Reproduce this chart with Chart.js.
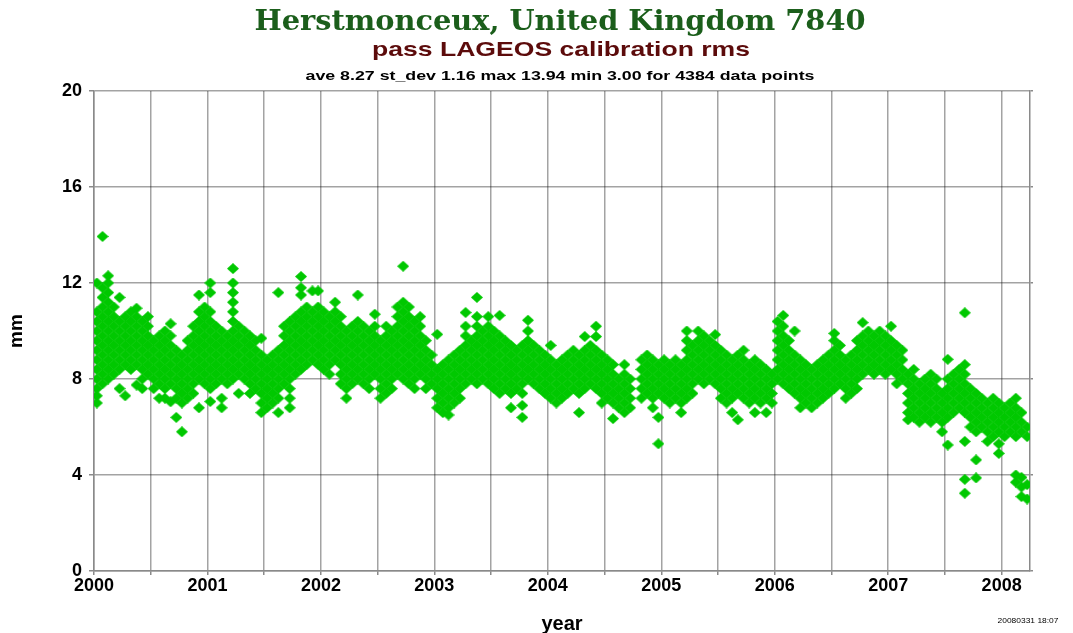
<!DOCTYPE html>
<html>
<head>
<meta charset="utf-8">
<title>Herstmonceux 7840 LAGEOS calibration rms</title>
<script src="https://cdn.jsdelivr.net/npm/chart.js@4.4.1/dist/chart.umd.min.js"></script>
<style>
  html, body { margin: 0; padding: 0; background: #fff; }
  #wrap { width: 1073px; height: 633px; position: relative; }
</style>
</head>
<body>
<div id="wrap"><canvas id="rmsChart"></canvas></div>
<script>
// pass rms values (mm), grouped in 0.05 year bins
const binWidth = 0.05;
const yearTicks = [2000, 2000.5, 2001, 2001.5, 2002, 2002.5, 2003, 2003.5, 2004, 2004.5,
                   2005, 2005.5, 2006, 2006.5, 2007, 2007.5, 2008];
const mmTicks = [0, 4, 8, 12, 16, 20];

const rms2000 = [
  [12.0, 10.8, 10.4, 10.0, 9.6, 9.2, 8.8, 8.4, 8.0, 7.6, 7.3, 7.0],
  [13.94, 11.8, 11.4, 11.0, 10.6, 10.2, 9.8, 9.4, 9.0, 8.6, 8.2, 7.8],
  [12.3, 12.0, 11.6, 11.2, 10.8, 10.4, 10.0, 9.6, 9.2, 8.8, 8.4, 8.0],
  [11.0, 10.6, 10.2, 9.8, 9.4, 9.0, 8.6, 8.2],
  [11.4, 10.4, 10.0, 9.6, 9.2, 8.8, 8.4, 7.6],
  [10.6, 10.2, 9.8, 9.4, 9.0, 8.6, 7.3],
  [10.8, 10.4, 10.0, 9.6, 9.2, 8.8, 8.4],
  [10.95, 10.6, 10.2, 9.8, 9.4, 9.0, 8.6, 7.75],
  [10.4, 10.0, 9.6, 9.2, 8.8, 8.4, 8.0, 7.6],
  [10.6, 10.2, 9.8, 9.4, 9.0, 8.6, 8.2],
  [9.6, 9.2, 8.8, 8.4, 8.0, 7.6],
  [9.8, 9.4, 9.0, 8.6, 8.2, 7.8, 7.2],
  [10.0, 9.6, 9.2, 8.8, 8.4, 8.0, 7.6, 7.2],
  [10.3, 9.8, 9.4, 9.0, 8.6, 8.2, 7.8, 7.05],
  [9.2, 8.8, 8.4, 8.0, 7.6, 7.2, 6.4],
  [9.0, 8.6, 8.2, 7.8, 7.4, 7.0, 5.8],
  [9.6, 9.2, 8.8, 8.4, 8.0, 7.6, 7.2],
  [10.2, 9.8, 9.4, 9.0, 8.6, 8.2, 7.8, 7.4],
  [11.5, 10.8, 10.4, 10.0, 9.6, 9.2, 8.8, 8.4, 8.0, 6.8],
  [11.0, 10.6, 10.2, 9.8, 9.4, 9.0, 8.6, 8.2, 7.8]
];
const rms2001 = [
  [12.0, 11.6, 10.8, 10.4, 10.0, 9.6, 9.2, 8.8, 8.4, 8.0, 7.6, 7.06],
  [10.2, 9.8, 9.4, 9.0, 8.6, 8.2, 7.8],
  [10.0, 9.6, 9.2, 8.8, 8.4, 8.0, 7.2, 6.8],
  [9.8, 9.4, 9.0, 8.6, 8.2, 7.8],
  [12.6, 12.0, 11.6, 11.2, 10.8, 10.4, 10.0, 9.6, 9.2, 8.8, 8.4, 8.0],
  [10.2, 9.8, 9.4, 9.0, 8.6, 8.2, 7.4],
  [10.0, 9.6, 9.2, 8.8, 8.4, 8.0],
  [9.8, 9.4, 9.0, 8.6, 8.2, 7.8, 7.4],
  [9.6, 9.2, 8.8, 8.4, 8.0, 7.6],
  [9.7, 9.0, 8.6, 8.2, 7.8, 7.4, 7.0, 6.6],
  [8.8, 8.4, 8.0, 7.6, 7.2, 6.8],
  [9.0, 8.6, 8.2, 7.8, 7.4, 7.0],
  [11.6, 9.2, 8.8, 8.4, 8.0, 7.6, 7.2, 6.6],
  [10.2, 9.8, 9.4, 9.0, 8.6, 8.2, 7.8],
  [10.4, 10.0, 9.6, 9.2, 8.8, 8.4, 8.0, 7.6, 7.2, 6.8],
  [10.6, 10.2, 9.8, 9.4, 9.0, 8.6, 8.2],
  [12.27, 11.8, 11.5, 10.8, 10.4, 10.0, 9.6, 9.2, 8.8, 8.4],
  [11.0, 10.6, 10.2, 9.8, 9.4, 9.0, 8.6],
  [11.67, 10.8, 10.4, 10.0, 9.6, 9.2, 8.8],
  [11.67, 11.0, 10.6, 10.2, 9.8, 9.4, 9.0, 8.6]
];
const rms2002 = [
  [10.8, 10.4, 10.0, 9.6, 9.2, 8.8, 8.4],
  [10.6, 10.2, 9.8, 9.4, 9.0, 8.6, 8.2],
  [11.2, 10.8, 10.4, 10.0, 9.6, 9.2, 8.8],
  [10.6, 10.2, 9.8, 9.4, 9.0, 8.6, 8.2, 7.8],
  [10.0, 9.6, 9.2, 8.8, 8.4, 8.0, 7.6, 7.2],
  [10.2, 9.8, 9.4, 9.0, 8.6, 8.2, 7.8],
  [11.5, 10.4, 10.0, 9.6, 9.2, 8.8, 8.4, 8.0],
  [10.2, 9.8, 9.4, 9.0, 8.6, 8.2, 7.8],
  [10.0, 9.6, 9.2, 8.8, 8.4, 8.0, 7.6],
  [10.7, 10.2, 9.8, 9.4, 9.0, 8.6, 8.2],
  [9.6, 9.2, 8.8, 8.4, 8.0, 7.6, 7.2],
  [10.2, 9.8, 9.4, 9.0, 8.6, 8.2, 7.8, 7.4],
  [10.0, 9.6, 9.2, 8.8, 8.4, 8.0, 7.6],
  [11.0, 10.6, 10.2, 9.8, 9.4, 9.0, 8.6, 8.2],
  [12.7, 11.2, 10.8, 10.4, 10.0, 9.6, 9.2, 8.8, 8.4, 8.0],
  [11.0, 10.6, 10.2, 9.8, 9.4, 9.0, 8.6, 8.2, 7.8],
  [10.4, 10.0, 9.6, 9.2, 8.8, 8.4, 8.0, 7.6],
  [10.6, 10.2, 9.8, 9.4, 9.0, 8.6, 8.2],
  [9.6, 9.2, 8.8, 8.4, 8.0, 7.6],
  [9.0, 8.6, 8.2, 7.8]
];
const rms2003 = [
  [9.86, 8.4, 8.0, 7.6, 7.2, 6.8],
  [8.6, 8.2, 7.8, 7.4, 7.0, 6.6],
  [8.8, 8.4, 8.0, 7.6, 7.2, 6.8, 6.5],
  [9.0, 8.6, 8.2, 7.8, 7.4, 7.0],
  [9.2, 8.8, 8.4, 8.0, 7.6, 7.2],
  [10.77, 10.2, 9.8, 9.4, 9.0, 8.6, 8.2, 7.8],
  [9.6, 9.2, 8.8, 8.4, 8.0],
  [11.4, 10.6, 10.2, 9.8, 9.4, 9.0, 8.6, 8.2, 7.8],
  [10.0, 9.6, 9.2, 8.8, 8.4, 8.0],
  [10.6, 10.2, 9.8, 9.4, 9.0, 8.6, 8.2, 7.8],
  [10.0, 9.6, 9.2, 8.8, 8.4, 8.0, 7.6],
  [10.65, 9.8, 9.4, 9.0, 8.6, 8.2, 7.8, 7.4],
  [9.6, 9.2, 8.8, 8.4, 8.0, 7.6],
  [9.4, 9.0, 8.6, 8.2, 7.8, 7.4, 6.8],
  [9.2, 8.8, 8.4, 8.0, 7.6],
  [9.4, 9.0, 8.6, 8.2, 7.8, 7.4, 6.9, 6.4],
  [10.45, 10.0, 9.6, 9.2, 8.8, 8.4, 8.0],
  [9.4, 9.0, 8.6, 8.2, 7.8],
  [9.2, 8.8, 8.4, 8.0, 7.6],
  [9.0, 8.6, 8.2, 7.8, 7.4]
];
const rms2004 = [
  [9.4, 8.8, 8.4, 8.0, 7.6, 7.2],
  [8.6, 8.2, 7.8, 7.4, 7.0],
  [8.8, 8.4, 8.0, 7.6, 7.2],
  [9.0, 8.6, 8.2, 7.8, 7.4],
  [9.2, 8.8, 8.4, 8.0, 7.6],
  [9.0, 8.6, 8.2, 7.8, 7.4, 6.6],
  [9.77, 9.2, 8.8, 8.4, 8.0, 7.6],
  [9.4, 9.0, 8.6, 8.2, 7.8],
  [10.2, 9.77, 9.2, 8.8, 8.4, 8.0, 7.6],
  [9.0, 8.6, 8.2, 7.8, 7.4, 7.0],
  [8.8, 8.4, 8.0, 7.6, 7.2],
  [8.6, 8.2, 7.8, 7.4, 7.0, 6.35],
  [8.0, 7.6, 7.2, 6.8],
  [8.6, 8.2, 7.8, 7.4, 7.0, 6.6],
  [8.0, 7.6, 7.2, 6.8],
  [],
  [8.8, 8.4, 8.0, 7.6, 7.2],
  [9.0, 8.6, 8.2, 7.8, 7.4],
  [8.8, 8.4, 8.0, 7.6, 7.2, 6.8],
  [8.6, 8.2, 7.8, 7.4, 6.4, 5.3]
];
const rms2005 = [
  [8.8, 8.4, 8.0, 7.6, 7.2],
  [8.6, 8.2, 7.8, 7.4, 7.0],
  [8.8, 8.4, 8.0, 7.6, 7.2],
  [8.6, 8.2, 7.8, 7.4, 7.0, 6.6],
  [10.0, 9.6, 9.2, 8.8, 8.4, 8.0, 7.6, 7.2],
  [9.4, 9.0, 8.6, 8.2, 7.8, 7.4],
  [10.0, 9.6, 9.2, 8.8, 8.4, 8.0],
  [9.8, 9.4, 9.0, 8.6, 8.2, 7.8],
  [9.6, 9.2, 8.8, 8.4, 8.0],
  [9.85, 9.4, 9.0, 8.6, 8.2, 7.8],
  [9.2, 8.8, 8.4, 8.0, 7.6, 7.2],
  [9.0, 8.6, 8.2, 7.8, 7.4, 7.0],
  [8.8, 8.4, 8.0, 7.6, 7.2, 6.6],
  [9.0, 8.6, 8.2, 7.8, 7.4, 6.3],
  [9.2, 8.8, 8.4, 8.0, 7.6, 7.2],
  [8.6, 8.2, 7.8, 7.4, 7.0],
  [8.8, 8.4, 8.0, 7.6, 7.2, 6.6],
  [8.6, 8.2, 7.8, 7.4, 7.0],
  [8.4, 8.0, 7.6, 7.2, 6.6],
  [8.2, 7.8, 7.4, 7.0]
];
const rms2006 = [
  [10.4, 10.0, 9.6, 9.2, 8.8, 8.4, 8.0],
  [10.65, 10.2, 9.8, 9.4, 9.0, 8.6, 8.2, 7.8],
  [9.6, 9.2, 8.8, 8.4, 8.0, 7.6],
  [10.0, 9.0, 8.6, 8.2, 7.8, 7.4],
  [8.8, 8.4, 8.0, 7.6, 7.2, 6.8],
  [8.6, 8.2, 7.8, 7.4, 7.0],
  [8.4, 8.0, 7.6, 7.2, 6.8],
  [8.6, 8.2, 7.8, 7.4, 7.0],
  [8.8, 8.4, 8.0, 7.6, 7.2],
  [9.0, 8.6, 8.2, 7.8, 7.4],
  [9.9, 9.6, 9.2, 8.8, 8.4, 8.0, 7.6],
  [9.4, 9.0, 8.6, 8.2, 7.8],
  [8.8, 8.4, 8.0, 7.6, 7.2],
  [9.0, 8.6, 8.2, 7.8, 7.4],
  [9.6, 9.2, 8.8, 8.4, 8.0, 7.6],
  [10.35, 9.8, 9.4, 9.0, 8.6, 8.2],
  [10.0, 9.6, 9.2, 8.8, 8.4],
  [9.8, 9.4, 9.0, 8.6, 8.2],
  [10.0, 9.6, 9.2, 8.8, 8.4],
  [9.8, 9.4, 9.0, 8.6, 8.2]
];
const rms2007 = [
  [10.2, 9.6, 9.2, 8.8, 8.4],
  [9.4, 9.0, 8.6, 8.2, 7.8],
  [9.2, 8.8, 8.4, 8.0],
  [8.2, 7.8, 7.4, 7.0, 6.6, 6.3],
  [8.4, 8.0, 7.6, 7.2, 6.8, 6.4],
  [7.8, 7.4, 7.0, 6.6, 6.2],
  [8.0, 7.6, 7.2, 6.8, 6.4],
  [8.2, 7.8, 7.4, 7.0, 6.6, 6.2],
  [8.0, 7.6, 7.2, 6.8, 6.4],
  [7.4, 7.0, 6.6, 6.2, 5.8],
  [8.82, 8.0, 7.6, 7.2, 6.8, 6.4, 5.25],
  [8.2, 7.8, 7.4, 7.0, 6.6],
  [8.4, 8.0, 7.6, 7.2, 6.8],
  [10.76, 8.6, 8.2, 7.8, 7.4, 7.0, 6.6, 5.4, 3.82, 3.24],
  [7.6, 7.2, 6.8, 6.4, 6.0],
  [7.4, 7.0, 6.6, 6.2, 5.8, 4.63, 3.88],
  [7.2, 6.8, 6.4, 6.0],
  [7.0, 6.6, 6.2, 5.8, 5.4],
  [7.2, 6.8, 6.4, 6.0, 5.6],
  [7.0, 6.6, 6.2, 5.8, 5.3, 4.9]
];
const rms2008 = [
  [6.8, 6.4, 6.0, 5.6],
  [7.0, 6.6, 6.2, 5.8],
  [7.2, 6.8, 6.4, 6.0, 5.6, 4.0, 3.7],
  [6.6, 6.2, 5.8, 3.9, 3.5, 3.1],
  [6.0, 5.6, 3.6, 3.0]
];

const binsByYear = [
  [2000, rms2000], [2001, rms2001], [2002, rms2002], [2003, rms2003], [2004, rms2004],
  [2005, rms2005], [2006, rms2006], [2007, rms2007], [2008, rms2008]
];

const points = [];
binsByYear.forEach(([year, bins]) => {
  bins.forEach((vals, k) => {
    vals.forEach(v => points.push({ x: year + binWidth * (k + 0.5), y: v }));
  });
});

// green diamond marker, a bit wider than tall like the original
const marker = document.createElement('canvas');
marker.width = 12;
marker.height = 11;
const mctx = marker.getContext('2d');
mctx.fillStyle = 'rgb(0,200,0)';
mctx.beginPath();
mctx.moveTo(6, 0);
mctx.lineTo(12, 5.5);
mctx.lineTo(6, 11);
mctx.lineTo(0, 5.5);
mctx.closePath();
mctx.fill();

function stretchedText(ctx, text, cx, baseline, font, color, width) {
  ctx.save();
  ctx.font = font;
  ctx.fillStyle = color;
  ctx.textAlign = 'center';
  ctx.textBaseline = 'alphabetic';
  const sx = width / ctx.measureText(text).width;
  ctx.translate(cx, baseline);
  ctx.scale(sx, 1);
  ctx.fillText(text, 0, 0);
  ctx.restore();
}

const headings = {
  id: 'headings',
  afterDraw(chart) {
    const ctx = chart.ctx;
    stretchedText(ctx, 'Herstmonceux, United Kingdom 7840', 560, 30,
      'bold 28px "DejaVu Serif"', '#1b5e1b', 611);
    stretchedText(ctx, 'pass LAGEOS calibration rms', 561, 56,
      'bold 21px "Liberation Sans"', '#5c0b0b', 378);
    stretchedText(ctx, 'ave 8.27 st_dev 1.16 max 13.94 min 3.00 for 4384 data points', 560, 80,
      'bold 13px "Liberation Sans"', '#000', 509);
    stretchedText(ctx, '20080331 18:07', 1028, 623,
      '7px "Liberation Sans"', '#000', 61);
  }
};

const gridColor = 'rgba(0,0,0,0.36)';
const axisColor = '#8a8a8a';
const tickFont = { family: 'Liberation Sans', size: 18, weight: 'bold' };

new Chart(document.getElementById('rmsChart'), {
  type: 'scatter',
  data: {
    datasets: [{
      label: 'rms',
      data: points,
      pointStyle: marker,
      pointRadius: 5,
      showLine: false
    }]
  },
  options: {
    responsive: true,
    maintainAspectRatio: false,
    animation: false,
    layout: { padding: { top: 91, right: 38, bottom: 0, left: 0 } },
    plugins: {
      legend: { display: false },
      tooltip: { enabled: false }
    },
    scales: {
      x: {
        type: 'linear',
        min: 2000,
        max: 2008.25,
        z: 1,
        afterFit(scale) { scale.height = 62; },
        afterBuildTicks(scale) { scale.ticks = yearTicks.map(v => ({ value: v })); },
        ticks: {
          autoSkip: false,
          maxRotation: 0,
          padding: 0,
          color: '#000',
          font: tickFont,
          callback: v => (v % 1 === 0 ? String(v) : '')
        },
        grid: { color: gridColor, lineWidth: 1.5, tickLength: 4, tickColor: axisColor },
        border: { color: axisColor, width: 1.5 },
        title: {
          display: true,
          text: 'year',
          color: '#000',
          font: { family: 'Liberation Sans', size: 20, weight: 'bold', lineHeight: 0.9 },
          padding: 0
        }
      },
      y: {
        min: 0,
        max: 20,
        z: 1,
        afterFit(scale) { scale.width = 94; },
        afterBuildTicks(scale) { scale.ticks = mmTicks.map(v => ({ value: v })); },
        ticks: {
          padding: 7,
          color: '#000',
          font: tickFont,
          callback: v => String(v)
        },
        grid: { color: gridColor, lineWidth: 1.5, tickLength: 5, tickColor: axisColor },
        border: { color: axisColor, width: 1.5 },
        title: {
          display: true,
          text: 'mm',
          color: '#000',
          font: { family: 'Liberation Sans', size: 19, weight: 'bold', lineHeight: 1.8 },
          padding: 0
        }
      },
      y2: {
        position: 'right',
        min: 0,
        max: 20,
        z: 1,
        afterFit(scale) { scale.width = 5; },
        afterBuildTicks(scale) { scale.ticks = mmTicks.map(v => ({ value: v })); },
        ticks: { display: false },
        grid: { drawOnChartArea: false, tickLength: 3, tickColor: axisColor, lineWidth: 1.5 },
        border: { color: axisColor, width: 1.5 }
      }
    }
  },
  plugins: [headings]
});
</script>
</body>
</html>
